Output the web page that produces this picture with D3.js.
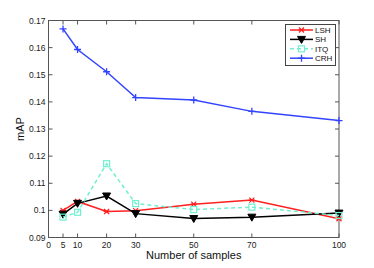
<!DOCTYPE html>
<html>
<head>
<meta charset="utf-8">
<script src="https://cdn.jsdelivr.net/npm/d3@7"></script>
<style>
  body { margin: 0; background: #fff; }
  svg text { font-family: "Liberation Sans", Arial, sans-serif; }
</style>
</head>
<body>
<svg id="chart" width="374" height="268"></svg>
<script>
const samples = [5, 10, 20, 30, 50, 70, 100];
const xTicks = [0, 5, 10, 20, 30, 50, 70, 100];
const yTicks = [0.09, 0.10, 0.11, 0.12, 0.13, 0.14, 0.15, 0.16, 0.17];

const lshVals = [0.1000, 0.1033, 0.0996, 0.0999, 0.1023, 0.1038, 0.0969];
const shVals  = [0.0986, 0.1026, 0.1053, 0.0988, 0.0970, 0.0975, 0.0990];
const itqVals = [0.0975, 0.0993, 0.1172, 0.1025, 0.1003, 0.1012, 0.0981];
const crhVals = [0.1669, 0.1593, 0.1511, 0.1416, 0.1407, 0.1365, 0.1331];

const seriesNames = ['LSH', 'SH', 'ITQ', 'CRH'];
const seriesColors = ['#ff2020', '#000000', '#70f0d0', '#3344ff'];

const margin = {left: 48.5, top: 20.5, right: 35, bottom: 30.5};
const svg = d3.select('#chart'),
      width = +svg.attr('width'),
      height = +svg.attr('height');

const x = d3.scaleLinear().domain([0, 100]).range([margin.left, width - margin.right]);
const y = d3.scaleLinear().domain([0.09, 0.17]).range([height - margin.bottom, margin.top]);

const series = [
  {name: 'LSH', vals: lshVals, marker: 'star'},
  {name: 'SH', vals: shVals, marker: 'tri'},
  {name: 'ITQ', vals: itqVals, marker: 'square', dash: '4,3'},
  {name: 'CRH', vals: crhVals, marker: 'plus'}
];
series.forEach((s, i) => { s.color = seriesColors[i]; });

const tickLen = 4;
const axisColor = '#555';

// box
svg.append('rect')
  .attr('x', x(0)).attr('y', y(0.17))
  .attr('width', x(100) - x(0)).attr('height', y(0.09) - y(0.17))
  .attr('fill', 'none').attr('stroke', axisColor).attr('stroke-width', 1);

// x ticks (bottom & top, inward)
const gx = svg.append('g');
xTicks.forEach(t => {
  gx.append('line').attr('x1', x(t)).attr('x2', x(t))
    .attr('y1', y(0.09)).attr('y2', y(0.09) - tickLen).attr('stroke', axisColor);
  gx.append('line').attr('x1', x(t)).attr('x2', x(t))
    .attr('y1', y(0.17)).attr('y2', y(0.17) + tickLen).attr('stroke', axisColor);
  gx.append('text').attr('x', x(t)).attr('y', y(0.09) + 10)
    .attr('text-anchor', 'middle').attr('font-size', 8.5).attr('fill', '#222')
    .text(t);
});

// y ticks (left & right, inward)
const gy = svg.append('g');
yTicks.forEach(t => {
  gy.append('line').attr('x1', x(0)).attr('x2', x(0) + tickLen)
    .attr('y1', y(t)).attr('y2', y(t)).attr('stroke', axisColor);
  gy.append('line').attr('x1', x(100)).attr('x2', x(100) - tickLen)
    .attr('y1', y(t)).attr('y2', y(t)).attr('stroke', axisColor);
  gy.append('text').attr('x', x(0) - 3).attr('y', y(t) + 3)
    .attr('text-anchor', 'end').attr('font-size', 8.5).attr('fill', '#222')
    .text(d3.format('')(+t.toFixed(2)));
});

// axis labels
svg.append('text').attr('x', (x(0) + x(100)) / 2).attr('y', 258.5)
  .attr('text-anchor', 'middle').attr('font-size', 11).attr('fill', '#111')
  .text('Number of samples');
svg.append('text').attr('transform', `translate(24,${(y(0.09) + y(0.17)) / 2}) rotate(-90)`)
  .attr('text-anchor', 'middle').attr('font-size', 11).attr('fill', '#111')
  .text('mAP');

const drawMarker = (g, m, cx, cy, color) => {
  if (m === 'star') {
    g.append('path').attr('d', `M${cx-2.5},${cy-2.5}L${cx+2.5},${cy+2.5}M${cx-2.5},${cy+2.5}L${cx+2.5},${cy-2.5}M${cx-3},${cy}L${cx+3},${cy}`)
      .attr('stroke', color).attr('stroke-width', 1.2);
  } else if (m === 'tri') {
    g.append('path').attr('d', `M${cx-4},${cy-3}L${cx+4},${cy-3}L${cx},${cy+4}Z`)
      .attr('fill', color).attr('stroke', color);
  } else if (m === 'square') {
    g.append('rect').attr('x', cx - 3).attr('y', cy - 3).attr('width', 6).attr('height', 6)
      .attr('fill', 'none').attr('stroke', color).attr('stroke-width', 1.2);
  } else if (m === 'plus') {
    g.append('path').attr('d', `M${cx-3.5},${cy}L${cx+3.5},${cy}M${cx},${cy-3.5}L${cx},${cy+3.5}`)
      .attr('stroke', color).attr('stroke-width', 1.3);
  }
};

const line = d3.line().x(d => x(d[0])).y(d => y(d[1]));

series.forEach(s => {
  const pts = samples.map((v, i) => [v, s.vals[i]]);
  const g = svg.append('g');
  g.append('path').attr('d', line(pts))
    .attr('fill', 'none').attr('stroke', s.color).attr('stroke-width', 1.5)
    .attr('stroke-dasharray', s.dash || null);
  pts.forEach(p => drawMarker(g, s.marker, x(p[0]), y(p[1]), s.color));
});

// legend
const lg = svg.append('g');
lg.append('rect').attr('x', 285.5).attr('y', 24.5).attr('width', 50).attr('height', 41)
  .attr('fill', '#fff').attr('stroke', '#444');
series.forEach((s, i) => {
  const ly = 30 + i * 9.4;
  lg.append('line').attr('x1', 290).attr('x2', 313).attr('y1', ly).attr('y2', ly)
    .attr('stroke', s.color).attr('stroke-width', 1.5)
    .attr('stroke-dasharray', s.dash || null);
  drawMarker(lg, s.marker, 301.5, ly, s.color);
  lg.append('text').attr('x', 315).attr('y', ly + 3).attr('font-size', 8)
    .attr('fill', '#111').text(s.name);
});
</script>
</body>
</html>
